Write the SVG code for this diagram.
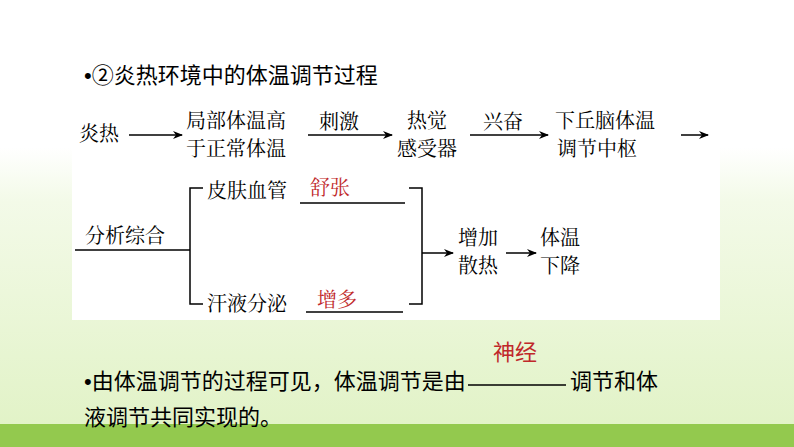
<svg xmlns="http://www.w3.org/2000/svg" width="794" height="447" viewBox="0 0 794 447">
<defs>
<linearGradient id="bg" x1="0" y1="0" x2="0" y2="1">
<stop offset="0" stop-color="#ffffff"/><stop offset="0.33" stop-color="#ffffff"/><stop offset="0.45" stop-color="#f3fae8"/><stop offset="1" stop-color="#e0f2c4"/>
</linearGradient>
<marker id="ar" markerWidth="10" markerHeight="8" refX="9" refY="4" orient="auto" markerUnits="userSpaceOnUse"><path d="M0,0 L10,4 L0,8 L3,4 Z" fill="#000"/></marker>
</defs>
<style>
text{font-family:"Noto Sans CJK SC",sans-serif;font-size:22px;fill:#000}
.s{font-family:"Noto Serif CJK SC","Noto Sans CJK SC",serif;font-size:20px}
.b{font-family:"Liberation Sans",sans-serif}
.r{fill:#c0282a}
.l{stroke:#000;stroke-width:1.5;fill:none}
.a{stroke:#000;stroke-width:1.5;fill:none;marker-end:url(#ar)}
</style>
<rect width="794" height="447" fill="url(#bg)"/>
<rect x="0" y="424" width="794" height="23" fill="#93c94e"/>
<rect x="72" y="100" width="648" height="220" fill="#fff"/>
<g id="title"><text x="84" y="83"><tspan class="b">•</tspan>②炎热环境中的体温调节过程</text></g>
<g id="n1"><text class="s" x="79" y="141">炎热</text></g>
<g id="n2"><text class="s" x="186" y="128">局部体温高</text><text class="s" x="186" y="156">于正常体温</text></g>
<g id="n3"><text class="s" x="407" y="128">热觉</text><text class="s" x="397" y="156">感受器</text></g>
<g id="n4"><text class="s" x="555" y="128">下丘脑体温</text><text class="s" x="557" y="156">调节中枢</text></g>
<g id="n5"><text class="s" x="85" y="243">分析综合</text></g>
<g id="n6"><text class="s" x="207" y="198">皮肤血管</text><text class="s r" x="310" y="195">舒张</text></g>
<g id="n7"><text class="s" x="207" y="311">汗液分泌</text><text class="s r" x="317" y="307">增多</text></g>
<g id="n8"><text class="s" x="458" y="245">增加</text><text class="s" x="458" y="273">散热</text></g>
<g id="n9"><text class="s" x="540" y="245">体温</text><text class="s" x="540" y="273">下降</text></g>
<g id="connectors">
<line class="a" x1="129" y1="135" x2="182" y2="135"/>
<line class="a" x1="308" y1="135" x2="392" y2="135"/>
<text class="s" x="319" y="129">刺激</text>
<line class="a" x1="470" y1="135" x2="548" y2="135"/>
<text class="s" x="483" y="129">兴奋</text>
<line class="a" x1="681" y1="135" x2="708" y2="135"/>
<line class="l" x1="75" y1="250" x2="190" y2="250"/>
<path class="l" d="M203,188 H190 V304 H203"/>
<line class="l" x1="300" y1="203" x2="405" y2="203"/>
<line class="l" x1="306" y1="312" x2="403" y2="312"/>
<path class="l" d="M409,188 H422 V304 H409"/>
<line class="a" x1="422" y1="253" x2="453" y2="253"/>
<line class="a" x1="506" y1="253" x2="536" y2="253"/>
</g>
<g id="summary">
<text class="r" x="493" y="360">神经</text>
<line class="l" x1="468" y1="385" x2="566" y2="385"/>
<text x="84" y="389"><tspan class="b">•</tspan>由体温调节的过程可见，体温调节是由</text>
<text x="570" y="389">调节和体</text>
<text x="84" y="425">液调节共同实现的。</text>
</g>
</svg>
